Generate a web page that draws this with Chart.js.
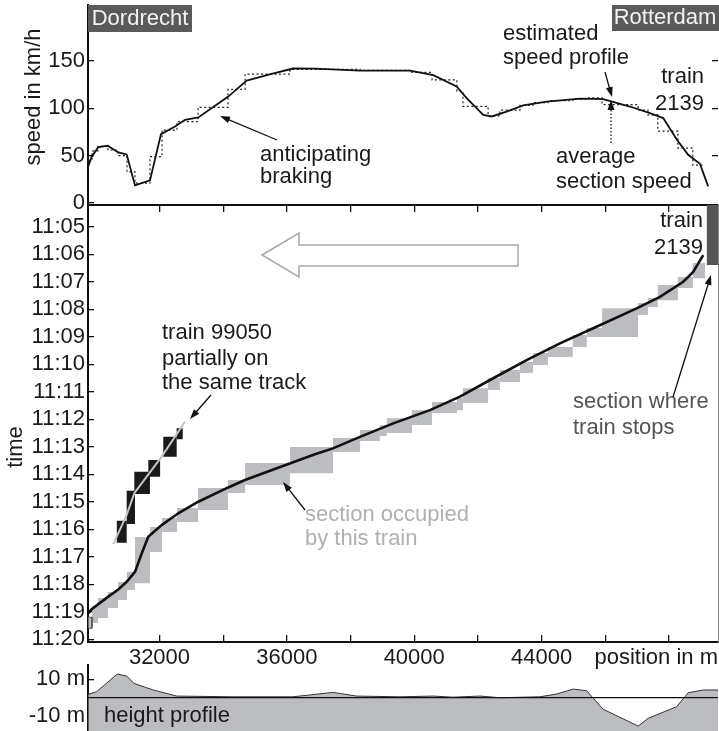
<!DOCTYPE html>
<html>
<head>
<meta charset="utf-8">
<script src="https://cdn.jsdelivr.net/npm/chart.js@4/dist/chart.umd.min.js"></script>
<style>
  body { margin: 0; background: #fff; }
  .wrap { position: relative; width: 719px; height: 731px; }
  canvas { position: absolute; left: 0; top: 0; }
</style>
</head>
<body>
<div class="wrap">
  <canvas id="speedChart" width="719" height="731"></canvas>
  <canvas id="timeChart" width="719" height="731"></canvas>
  <canvas id="heightChart" width="719" height="731"></canvas>
</div>
<script>
// position along the line in m
const posMin = 29755, posMax = 49540;
const posTicks = [32000, 34000, 36000, 38000, 40000, 42000, 44000, 46000, 48000];
const posLabels = [32000, 36000, 40000, 44000];

// estimated speed profile (km/h)
const speedPos = [29764, 29871, 30078, 30374, 30706, 30970, 31231, 31702, 32047, 32487, 32801, 33218, 34160, 34738, 35523, 36192, 36883, 38296, 39866, 40598, 41332, 41646, 42168, 42432, 42902, 43424, 44159, 45204, 45935, 46774, 47402, 47820, 48250, 48604, 48972, 49232];
const speedKmh = [39, 49, 59, 60.5, 53.5, 51.4, 18.7, 24, 72.8, 80.8, 87.9, 90.3, 112.4, 129.3, 136.3, 142, 141.9, 139.7, 139.8, 135, 123, 110.7, 93, 91.4, 96.6, 103, 107, 110.3, 109.8, 101.9, 95, 89.7, 66.8, 51, 41.5, 17.7];
const speedTicks = [0, 50, 100, 150];

// block sections of train 2139: edges, average speed, occupation (minutes after 11:00)
const sectionEdges = [29760, 29880, 30070, 30380, 30700, 30980, 31230, 31700, 32080, 32550, 33210, 34150, 34690, 36100, 37450, 38300, 38920, 39140, 39930, 40560, 41340, 41530, 42320, 42690, 43320, 43730, 44200, 44980, 45420, 45900, 47030, 47340, 47650, 48280, 48750, 49130];
const sectionSpeed = [45, 55, 60, 56, 50, 33, 21, 49, 77, 86, 101, 120, 136, 141, 141, 140, 140, 140, 138, 130, 118, 102, 92, 98, 103, 106, 108, 110, 111, 104, 98, 93, 76, 58, 40];
const occupiedFrom = [19.20, 18.79, 18.50, 18.28, 17.92, 17.55, 16.28, 15.92, 15.59, 15.23, 14.50, 14.21, 13.59, 13.01, 12.68, 12.39, 12.21, 11.96, 11.67, 11.37, 11.23, 10.87, 10.50, 10.21, 9.92, 9.59, 9.37, 8.94, 8.68, 7.96, 7.77, 7.59, 7.12, 6.83, 6.32];
const occupiedTo = [19.60, 19.41, 19.23, 18.86, 18.57, 18.21, 17.96, 16.83, 16.10, 15.74, 15.30, 14.68, 14.39, 13.96, 13.19, 12.79, 12.61, 12.50, 12.21, 11.77, 11.67, 11.41, 10.94, 10.65, 10.32, 10.03, 9.74, 9.37, 9.01, 9.01, 8.21, 7.92, 7.67, 7.23, 6.87];
const stopEdges = [49190, 49540];
const stopTime = [4.21, 6.39];

// path of train 2139
const trainPos = [29764, 29871, 30392, 30706, 30970, 31231, 31441, 31648, 32069, 32590, 33218, 34160, 34685, 35941, 36883, 37448, 38296, 39342, 40494, 41436, 42481, 43530, 44576, 45621, 46984, 47716, 48448, 48761, 49076];
const trainTime = [19.06, 18.91, 18.45, 18.19, 17.91, 17.55, 16.88, 16.27, 15.85, 15.42, 15.0, 14.48, 14.21, 13.67, 13.27, 13.06, 12.64, 12.15, 11.67, 11.18, 10.51, 9.85, 9.24, 8.69, 7.97, 7.55, 7.0, 6.64, 6.03];

// train 99050 blocks and path
const otherStart = [30660, 30970, 31210, 31650, 32120, 32540];
const otherEnd = [30970, 31230, 31700, 32020, 32540, 32730];
const otherFrom = [15.69, 14.60, 13.91, 13.48, 12.64, 12.33];
const otherTo = [16.49, 15.81, 14.72, 14.09, 13.36, 12.73];
const otherPos = [30549, 30970, 31209, 32069, 32801];
const otherTime = [16.54, 15.48, 14.69, 13.36, 12.09];

const timeTicks = [5, 6, 7, 8, 9, 10, 11, 12, 13, 14, 15, 16, 17, 18, 19, 20];

// height profile (m)
const heightPos = [29765, 30028, 30675, 30970, 31199, 31805, 32540, 34308, 36192, 37448, 38192, 39552, 40588, 41216, 42064, 42692, 43948, 44472, 44993, 45414, 45935, 47034, 47348, 48240, 48604, 49075, 49546];
const heightM = [1.8, 3.3, 12.9, 11.8, 7.8, 4.2, 0.9, 0.5, 0.5, 2.9, 0.9, 0.5, 0.9, 0.3, 0.9, 0, 0.5, 2, 4.7, 3.8, -6.3, -15.4, -11.2, -4.9, 2.7, 4.2, 4.2];
const heightTicks = [-10, 10];

Chart.defaults.font.family = '"Liberation Sans", Arial, sans-serif';
Chart.defaults.font.size = 22;
Chart.defaults.color = '#1a1a1a';

const FONT = '22px "Liberation Sans", Arial, sans-serif';

function text(ctx, s, x, y, color, align) {
  ctx.fillStyle = color || '#1a1a1a';
  ctx.textAlign = align || 'left';
  ctx.textBaseline = 'middle';
  ctx.fillText(s, x, y);
}

function arrow(ctx, x1, y1, x2, y2, dash) {
  const a = Math.atan2(y2 - y1, x2 - x1);
  const c = Math.cos(a), s = Math.sin(a);
  ctx.save();
  ctx.strokeStyle = ctx.fillStyle = '#111';
  ctx.lineWidth = 1.3;
  if (dash) ctx.setLineDash(dash);
  ctx.beginPath();
  ctx.moveTo(x1, y1);
  ctx.lineTo(x2 - 6 * c, y2 - 6 * s);
  ctx.stroke();
  ctx.setLineDash([]);
  ctx.beginPath();
  ctx.moveTo(x2, y2);
  ctx.lineTo(x2 - 10 * c + 3.5 * s, y2 - 10 * s - 3.5 * c);
  ctx.lineTo(x2 - 10 * c - 3.5 * s, y2 - 10 * s + 3.5 * c);
  ctx.closePath();
  ctx.fill();
  ctx.restore();
}

function setTicks(list) {
  return s => { s.ticks = list.map(v => ({ value: v })); };
}

// fixed axis sizes, no extra label padding, so all three panels line up
function fixWidth(w) {
  return s => { s.width = w; s.paddingTop = s.paddingBottom = s.paddingLeft = s.paddingRight = 0; };
}
function fixHeight(h) {
  return s => { s.height = h; s.paddingTop = s.paddingBottom = s.paddingLeft = s.paddingRight = 0; };
}

const baseOptions = {
  responsive: false,
  animation: false,
  plugins: { legend: { display: false }, tooltip: { enabled: false } },
  elements: { point: { radius: 0 }, line: { tension: 0 } }
};

// ---------- speed panel ----------
const stepData = sectionSpeed.map((v, i) => ({ x: sectionEdges[i], y: v }));
stepData.push({ x: sectionEdges[sectionEdges.length - 1], y: sectionSpeed[sectionSpeed.length - 1] });

new Chart(document.getElementById('speedChart'), {
  type: 'line',
  data: {
    datasets: [
      { data: speedPos.map((x, i) => ({ x, y: speedKmh[i] })), borderColor: '#111', borderWidth: 1.8 },
      { data: stepData, stepped: true, borderDash: [2, 2.5], borderColor: '#222', borderWidth: 1.2 }
    ]
  },
  options: {
    ...baseOptions,
    layout: { padding: { top: 5, right: 1, bottom: 526, left: 0 } },
    scales: {
      x: { type: 'linear', display: false, min: posMin, max: posMax },
      y: {
        min: -2, max: 209,
        afterFit: fixWidth(88),
        afterBuildTicks: setTicks(speedTicks),
        grid: { drawOnChartArea: false, tickLength: -6, color: '#111', lineWidth: 1.3 },
        border: { color: '#111', width: 2 },
        ticks: { padding: 9 }
      },
      yR: {
        position: 'right', min: -2, max: 209,
        afterFit: fixWidth(0),
        afterBuildTicks: setTicks([50, 100, 150]),
        grid: { drawOnChartArea: false, tickLength: -6, color: '#111', lineWidth: 1.3 },
        border: { display: false },
        ticks: { display: false }
      }
    }
  },
  plugins: [{
    id: 'speedNotes',
    afterDraw(chart) {
      const ctx = chart.ctx;
      ctx.save();
      ctx.font = FONT;
      ctx.fillStyle = '#5a5a5a';
      ctx.fillRect(88, 5, 104, 27);
      ctx.fillRect(612, 5, 107, 26);
      text(ctx, 'Dordrecht', 140, 19, '#f2f2f2', 'center');
      text(ctx, 'Rotterdam', 665, 18, '#f2f2f2', 'center');
      text(ctx, 'anticipating', 260, 155);
      text(ctx, 'braking', 260, 177);
      text(ctx, 'estimated', 503, 34);
      text(ctx, 'speed profile', 503, 58);
      text(ctx, 'train', 704, 77, null, 'right');
      text(ctx, '2139', 704, 104, null, 'right');
      text(ctx, 'average', 556, 157);
      text(ctx, 'section speed', 556, 182);
      arrow(ctx, 277, 140, 220, 116);
      arrow(ctx, 605, 72, 612, 97);
      arrow(ctx, 611, 143, 611, 100, [1.5, 2]);
      ctx.translate(34, 97);
      ctx.rotate(-Math.PI / 2);
      text(ctx, 'speed in km/h', 0, 0, null, 'center');
      ctx.restore();
    }
  }]
});

// ---------- time-distance panel ----------
function box(x0, x1, t0, t1) {
  return [{ x: x0, y: t0 }, { x: x1, y: t0 }, { x: x1, y: t1 }, { x: x0, y: t1 }, { x: x0, y: t0 }];
}

const blockSets = sectionSpeed.map((_, i) => ({
  data: box(sectionEdges[i], sectionEdges[i + 1], occupiedFrom[i], occupiedTo[i]),
  fill: 'shape', backgroundColor: '#bcbdc0',
  borderColor: i === 0 ? '#555' : 'rgba(0,0,0,0)', borderWidth: i === 0 ? 1 : 0, order: 4
}));
const otherSets = otherStart.map((x0, i) => ({
  data: box(x0, otherEnd[i], otherFrom[i], otherTo[i]),
  fill: 'shape', backgroundColor: '#1a1a1a', borderColor: 'rgba(0,0,0,0)', borderWidth: 0, order: 3
}));

new Chart(document.getElementById('timeChart'), {
  type: 'line',
  data: {
    datasets: [
      { data: trainPos.map((x, i) => ({ x, y: trainTime[i] })), borderColor: '#111', borderWidth: 2.6, order: 0 },
      { data: otherPos.map((x, i) => ({ x, y: otherTime[i] })), borderColor: '#c4c4c4', borderWidth: 2, order: 1 },
      { data: box(stopEdges[0], stopEdges[1], stopTime[0], stopTime[1]), fill: 'shape', backgroundColor: '#555', borderColor: 'rgba(0,0,0,0)', borderWidth: 0, order: 4 },
      ...otherSets,
      ...blockSets
    ]
  },
  options: {
    ...baseOptions,
    layout: { padding: { top: 205, right: 1, bottom: 59, left: 0 } },
    scales: {
      x: {
        type: 'linear', min: posMin, max: posMax,
        afterFit: fixHeight(30),
        afterBuildTicks: setTicks(posTicks),
        grid: { drawOnChartArea: false, tickLength: -7, color: '#111', lineWidth: 1.3 },
        border: { color: '#111', width: 2 },
        ticks: { padding: 10, maxRotation: 0, autoSkip: false, callback: v => posLabels.includes(v) ? String(v) : '' }
      },
      xTop: {
        type: 'linear', position: 'top', min: posMin, max: posMax,
        afterFit: fixHeight(0),
        afterBuildTicks: setTicks(posTicks),
        grid: { drawOnChartArea: false, tickLength: -7, color: '#111', lineWidth: 1.3 },
        border: { color: '#111', width: 2 },
        ticks: { display: false }
      },
      y: {
        reverse: true, min: 4.21, max: 20.1,
        afterFit: fixWidth(88),
        afterBuildTicks: setTicks(timeTicks),
        grid: { drawOnChartArea: false, tickLength: -6, color: '#111', lineWidth: 1.3 },
        border: { color: '#111', width: 2 },
        ticks: { padding: 9, autoSkip: false, callback: v => '11:' + String(v).padStart(2, '0') }
      },
      yR: {
        position: 'right', reverse: true, min: 4.21, max: 20.1,
        afterFit: fixWidth(0),
        grid: { display: false },
        border: { color: '#888', width: 1 },
        ticks: { display: false }
      }
    }
  },
  plugins: [{
    id: 'timeNotes',
    afterDraw(chart) {
      const ctx = chart.ctx;
      ctx.save();
      ctx.font = FONT;
      // hollow direction arrow
      ctx.beginPath();
      ctx.moveTo(262, 255);
      ctx.lineTo(299, 233);
      ctx.lineTo(299, 245);
      ctx.lineTo(518, 245);
      ctx.lineTo(518, 266);
      ctx.lineTo(299, 266);
      ctx.lineTo(299, 277);
      ctx.closePath();
      ctx.fillStyle = '#fff';
      ctx.fill();
      ctx.strokeStyle = '#a8a8a8';
      ctx.lineWidth = 1.5;
      ctx.stroke();
      text(ctx, 'train', 703, 221, null, 'right');
      text(ctx, '2139', 703, 248, null, 'right');
      text(ctx, 'train 99050', 162, 333);
      text(ctx, 'partially on', 162, 359);
      text(ctx, 'the same track', 162, 383);
      text(ctx, 'section occupied', 305, 515, '#b0b0b0');
      text(ctx, 'by this train', 305, 539, '#b0b0b0');
      text(ctx, 'section where', 573, 402, '#555');
      text(ctx, 'train stops', 573, 428, '#555');
      text(ctx, 'position in m', 718, 658, null, 'right');
      arrow(ctx, 211, 395, 190, 419);
      arrow(ctx, 305, 510, 283, 482);
      arrow(ctx, 673, 397, 711, 275);
      ctx.translate(16, 447);
      ctx.rotate(-Math.PI / 2);
      text(ctx, 'time', 0, 0, null, 'center');
      ctx.restore();
    }
  }]
});

// ---------- height panel ----------
new Chart(document.getElementById('heightChart'), {
  type: 'line',
  data: {
    datasets: [
      { data: [{ x: posMin, y: 0 }, { x: posMax, y: 0 }], borderColor: '#111', borderWidth: 1.3, order: 0 },
      { data: heightPos.map((x, i) => ({ x, y: heightM[i] })), fill: 'start', backgroundColor: '#bcbdc0', borderColor: '#333', borderWidth: 1, order: 1 }
    ]
  },
  options: {
    ...baseOptions,
    layout: { padding: { top: 665, right: 1, bottom: 0, left: 0 } },
    scales: {
      x: { type: 'linear', display: false, min: posMin, max: posMax },
      y: {
        min: -18.1, max: 17.8,
        afterFit: fixWidth(88),
        afterBuildTicks: setTicks(heightTicks),
        grid: { drawOnChartArea: false, tickLength: -6, color: '#111', lineWidth: 1.3 },
        border: { color: '#111', width: 2 },
        ticks: { padding: 9, callback: v => v + ' m' }
      }
    }
  },
  plugins: [{
    id: 'heightNotes',
    afterDraw(chart) {
      const ctx = chart.ctx;
      ctx.save();
      ctx.font = FONT;
      text(ctx, 'height profile', 104, 716);
      ctx.restore();
    }
  }]
});
</script>
</body>
</html>
